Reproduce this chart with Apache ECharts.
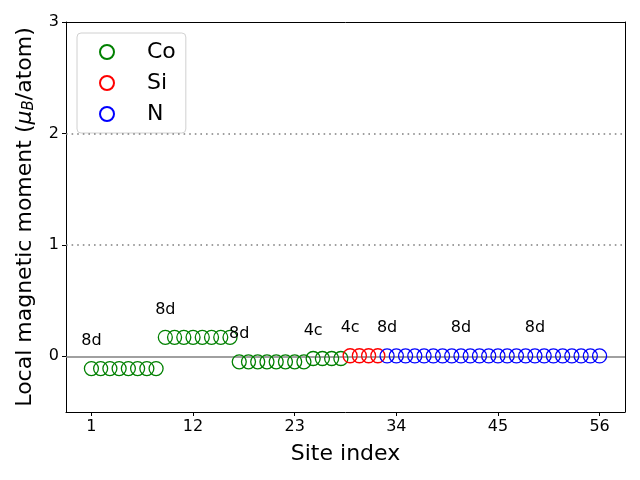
<!DOCTYPE html>
<html><head><meta charset="utf-8">
<script src="https://cdn.jsdelivr.net/npm/echarts@6/dist/echarts.min.js"></script>
<style>html,body{margin:0;padding:0;background:#fff}#c{width:640px;height:480px}</style>
</head><body><div id="c"></div>
<script>
// Data
const coSites = [1,2,3,4,5,6,7,8,9,10,11,12,13,14,15,16,17,18,19,20,21,22,23,24,25,26,27,28];
const coMoments = [-0.11,-0.11,-0.11,-0.11,-0.11,-0.11,-0.11,-0.11,
                   0.17,0.17,0.17,0.17,0.17,0.17,0.17,0.17,
                   -0.05,-0.05,-0.05,-0.05,-0.05,-0.05,-0.05,-0.05,
                   -0.02,-0.02,-0.02,-0.02];
const siSites = [29,30,31,32];
const siMoments = [0.005,0.005,0.005,0.005];
const nSites = [33,34,35,36,37,38,39,40,41,42,43,44,45,46,47,48,49,50,51,52,53,54,55,56];
const nMoments = [0.003,0.003,0.003,0.003,0.003,0.003,0.003,0.003,0.003,0.003,0.003,0.003,
                  0.003,0.003,0.003,0.003,0.003,0.003,0.003,0.003,0.003,0.003,0.003,0.003];
const wyckoffSites = [1, 9, 17, 25, 29, 33, 41, 49];
const wyckoffLabels = ['8d','8d','8d','4c','4c','8d','8d','8d'];
const xTicks = [1,12,23,34,45,56];
const yTicks = [0,1,2,3];
const refLines = [1,2];

const allSites = coSites.concat(siSites, nSites);
const allMoments = coMoments.concat(siMoments, nMoments);
const labelData = wyckoffSites.map((s,i) => [s, allMoments[allSites.indexOf(s)] + 0.25, wyckoffLabels[i]]);

const font = 'DejaVu Sans';
const chart = echarts.init(document.getElementById('c'), null, {renderer:'canvas'});
function pts(xs, ys){ return xs.map((x,i)=>[x, ys[i]]); }
function sc(name, xs, ys, color){
  return {name, type:'scatter', data:pts(xs,ys), symbol:'circle', symbolSize:14, z:5,
    itemStyle:{color:'rgba(0,0,0,0)', borderColor:color, borderWidth:1.3, opacity:1}, emphasis:{disabled:true}};
}
chart.setOption({
  animation:false,
  textStyle:{fontFamily:font},
  grid:{left:66, right:15, top:22, bottom:68},
  legend:{
    orient:'vertical', left:77, top:33,
    padding:[8,10,8,22], itemGap:9, itemWidth:14, itemHeight:14,
    backgroundColor:'rgba(255,255,255,0.8)', borderColor:'#d0d0d0', borderWidth:1, borderRadius:4,
    textStyle:{fontFamily:font, fontSize:22, color:'#000', lineHeight:22, padding:[0,0,0,28]},
    data:['Co','Si','N']
  },
  xAxis:[{
    type:'value', min:-1.75, max:58.75,
    name:'Site index', nameLocation:'middle', nameGap:31,
    nameTextStyle:{fontFamily:font, fontSize:22, color:'#000'},
    axisLine:{show:true, onZero:false, lineStyle:{color:'#000', width:1}},
    axisTick:{show:true, length:4, customValues:xTicks, lineStyle:{color:'#000'}},
    axisLabel:{customValues:xTicks, fontSize:16, color:'#000', fontFamily:font, margin:7},
    splitLine:{show:false}
  },{
    type:'value', position:'top', min:-1.75, max:58.75,
    axisLine:{show:true, onZero:false, lineStyle:{color:'#000', width:1}},
    axisTick:{show:false}, axisLabel:{show:false}, splitLine:{show:false}
  }],
  yAxis:[{
    type:'value', min:-0.5, max:3,
    name:'Local magnetic moment ({i|μ}{sub|B}/atom)', nameLocation:'middle', nameGap:29, nameRotate:90,
    nameTextStyle:{fontFamily:font, fontSize:22, color:'#000',
      rich:{i:{fontFamily:font, fontSize:22, fontStyle:'italic', color:'#000'},
            sub:{fontFamily:font, fontSize:15, fontStyle:'italic', color:'#000', verticalAlign:'bottom', padding:[8,0,0,0]}}},
    axisLine:{show:true, onZero:false, lineStyle:{color:'#000', width:1}},
    axisTick:{show:true, length:4, customValues:yTicks, lineStyle:{color:'#000'}},
    axisLabel:{customValues:yTicks, fontSize:16, color:'#000', fontFamily:font, margin:7},
    splitLine:{show:false}
  },{
    type:'value', position:'right', min:-0.5, max:3,
    axisLine:{show:true, onZero:false, lineStyle:{color:'#000', width:1}},
    axisTick:{show:false}, axisLabel:{show:false}, splitLine:{show:false}
  }],
  series:[
    sc('Co', coSites, coMoments, '#008000'),
    sc('Si', siSites, siMoments, '#ff0000'),
    sc('N', nSites, nMoments, '#0000ff'),
    {type:'scatter', name:'refs', data:[], silent:true, z:1,
      markLine:{silent:true, symbol:'none', animation:false, label:{show:false},
        data:[
          {yAxis:0, lineStyle:{color:'#808080', width:1.6, type:'solid'}},
          ...refLines.map(v=>({yAxis:v, lineStyle:{color:'#808080', width:1.6, type:[1.6,4]}}))
        ]}},
    {type:'scatter', name:'labels', data:labelData, symbolSize:0, silent:true, z:6,
      itemStyle:{opacity:1},
      label:{show:true, position:'inside', formatter:p=>p.data[2], fontFamily:font, fontSize:16, color:'#000', opacity:1}}
  ]
});
</script></body></html>
